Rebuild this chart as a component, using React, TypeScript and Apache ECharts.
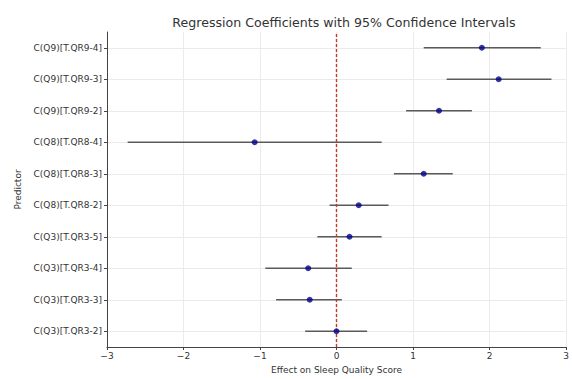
import React, { useEffect, useRef } from "react";
import * as echarts from "echarts";

const predictors = [
  "C(Q3)[T.QR3-2]",
  "C(Q3)[T.QR3-3]",
  "C(Q3)[T.QR3-4]",
  "C(Q3)[T.QR3-5]",
  "C(Q8)[T.QR8-2]",
  "C(Q8)[T.QR8-3]",
  "C(Q8)[T.QR8-4]",
  "C(Q9)[T.QR9-2]",
  "C(Q9)[T.QR9-3]",
  "C(Q9)[T.QR9-4]",
];
const coefficients = [0.0, -0.35, -0.37, 0.17, 0.29, 1.14, -1.07, 1.34, 2.12, 1.9];
const ciLower = [-0.41, -0.79, -0.93, -0.25, -0.09, 0.75, -2.73, 0.91, 1.44, 1.14];
const ciUpper = [0.4, 0.07, 0.2, 0.59, 0.68, 1.52, 0.59, 1.77, 2.81, 2.67];
const xTicks = [-3, -2, -1, 0, 1, 2, 3];

const FONT = "DejaVu Sans";

export default function App() {
  const ref = useRef<HTMLDivElement>(null);
  useEffect(() => {
    if (!ref.current) return;
    const chart = echarts.init(ref.current, null, { renderer: "svg" });
    const ciData = predictors.map((_, i) => [ciLower[i], ciUpper[i], i]);
    chart.setOption({
      animation: false,
      backgroundColor: "#ffffff",
      title: {
        text: "Regression Coefficients with 95% Confidence Intervals",
        left: 339,
        textAlign: "center",
        top: 11,
        textStyle: { fontFamily: FONT, fontSize: 12.6, fontWeight: "normal", color: "#333" },
      },
      grid: { left: 107, right: 6, top: 32, bottom: 28, containLabel: false },
      xAxis: {
        type: "value",
        min: xTicks[0],
        max: xTicks[xTicks.length - 1],
        interval: 1,
        name: "Effect on Sleep Quality Score",
        nameLocation: "middle",
        nameGap: 18,
        nameTextStyle: { fontFamily: FONT, fontSize: 9, color: "#333" },
        axisLine: { show: true, onZero: false, lineStyle: { color: "#444", width: 1 } },
        axisTick: { show: true, length: 3, lineStyle: { color: "#444" } },
        axisLabel: {
          fontFamily: FONT,
          fontSize: 9,
          color: "#333",
          margin: 4,
          formatter: (v: number) => (v < 0 ? "\u2212" + Math.abs(v) : String(v)),
        },
        splitLine: { show: true, lineStyle: { color: "#ebebeb", width: 1 } },
      },
      yAxis: {
        type: "category",
        data: predictors,
        boundaryGap: true,
        name: "Predictor",
        nameLocation: "middle",
        nameGap: 82,
        nameRotate: 90,
        nameTextStyle: { fontFamily: FONT, fontSize: 9, color: "#333" },
        axisLine: { show: true, onZero: false, lineStyle: { color: "#444", width: 1 } },
        axisTick: { show: true, length: 3, alignWithLabel: true, lineStyle: { color: "#444" } },
        axisLabel: { fontFamily: FONT, fontSize: 9, color: "#333", margin: 5 },
        splitLine: { show: true, alignWithLabel: true, lineStyle: { color: "#ebebeb", width: 1 } },
      },
      series: [
        {
          type: "custom",
          data: ciData,
          encode: { x: [0, 1], y: 2 },
          renderItem: (_params: any, api: any) => {
            const idx = api.value(2);
            const p1 = api.coord([api.value(0), idx]);
            const p2 = api.coord([api.value(1), idx]);
            return {
              type: "line",
              shape: { x1: p1[0], y1: p1[1], x2: p2[0], y2: p2[1] },
              style: { stroke: "#5a5a5a", lineWidth: 1.6 },
            };
          },
          z: 2,
        },
        {
          type: "scatter",
          data: predictors.map((_, i) => [coefficients[i], i]),
          symbolSize: 6,
          itemStyle: { color: "#00008b" },
          z: 4,
          markLine: {
            silent: true,
            symbol: "none",
            label: { show: false },
            lineStyle: { color: "#c23b22", type: [3, 2], width: 1.4 },
            data: [{ xAxis: 0 }],
            z: 3,
          },
        },
      ],
    });
    return () => chart.dispose();
  }, []);
  return <div ref={ref} style={{ width: 572, height: 379, position: "absolute", left: 0, top: 0 }} />;
}
